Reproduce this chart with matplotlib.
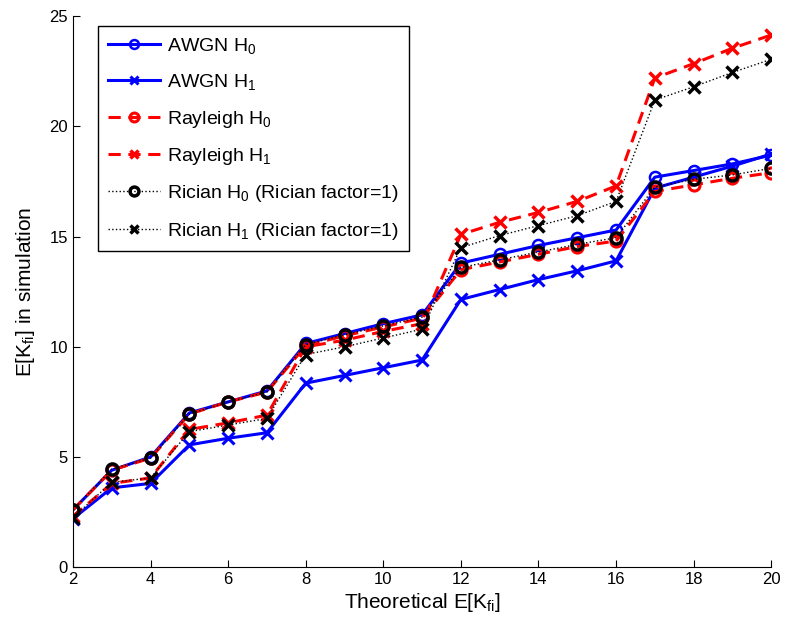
import matplotlib.pyplot as plt

plt.rcParams['font.family'] = ['Liberation Sans', 'DejaVu Sans']
plt.rcParams['mathtext.default'] = 'regular'

x = list(range(2, 21))
awgn_h0 = [2.6, 4.4, 5.0, 7.0, 7.5, 8.0, 10.15, 10.6, 11.05, 11.45, 13.8, 14.2, 14.6, 14.95, 15.3, 17.7, 18.0, 18.3, 18.7]
awgn_h1 = [2.2, 3.6, 3.8, 5.55, 5.85, 6.1, 8.35, 8.7, 9.05, 9.4, 12.15, 12.6, 13.05, 13.45, 13.9, 17.2, 17.7, 18.2, 18.75]
rayl_h0 = [2.6, 4.4, 4.95, 6.95, 7.5, 7.95, 10.05, 10.5, 10.9, 11.3, 13.5, 13.85, 14.2, 14.55, 14.8, 17.05, 17.35, 17.65, 17.9]
rayl_h1 = [2.3, 3.8, 4.05, 6.25, 6.55, 6.9, 10.0, 10.3, 10.7, 11.05, 15.1, 15.65, 16.1, 16.6, 17.3, 22.2, 22.85, 23.55, 24.15]
rice_h0 = [2.6, 4.45, 4.95, 6.95, 7.5, 7.95, 10.1, 10.55, 10.95, 11.35, 13.6, 13.95, 14.3, 14.65, 14.95, 17.25, 17.6, 17.8, 18.1]
rice_h1 = [2.25, 3.85, 4.05, 6.15, 6.45, 6.75, 9.65, 10.0, 10.4, 10.8, 14.5, 15.05, 15.5, 15.95, 16.6, 21.2, 21.8, 22.45, 23.05]

fig = plt.figure(figsize=(7.89, 6.26), dpi=100)
ax = fig.add_axes([0.0925, 0.094, 0.885, 0.88])

ax.plot(x, awgn_h0, '-o', color='blue', lw=2.2, ms=8, mfc='none', mew=1.8, label='AWGN H$_0$')
ax.plot(x, awgn_h1, '-x', color='blue', lw=2.2, ms=8, mew=2.2, label='AWGN H$_1$')
ax.plot(x, rayl_h0, '--o', color='red', lw=2.2, ms=8, mfc='none', mew=2.2, dashes=(4, 2.5), label='Rayleigh H$_0$')
ax.plot(x, rayl_h1, '--x', color='red', lw=2.2, ms=8, mew=2.5, dashes=(4, 2.5), label='Rayleigh H$_1$')
ax.plot(x, rice_h0, ':o', color='black', lw=1.0, ms=8, mfc='none', mew=2.5, label='Rician H$_0$ (Rician factor=1)')
ax.plot(x, rice_h1, ':x', color='black', lw=1.0, ms=8, mew=2.5, label='Rician H$_1$ (Rician factor=1)')

ax.set_xlim(2, 20)
ax.set_ylim(0, 25)
ax.set_xticks(range(2, 21, 2))
ax.set_yticks(range(0, 26, 5))
ax.tick_params(direction='in', labelsize=12, length=5)
ax.spines['top'].set_visible(False)
ax.spines['right'].set_visible(False)
ax.set_xlabel('Theoretical E[K$_{fi}$]', fontsize=15, labelpad=3)
ax.set_ylabel('E[K$_{fi}$] in simulation', fontsize=15, labelpad=9)

leg = ax.legend(loc='upper left', bbox_to_anchor=(0.036, 0.982), fontsize=14,
                fancybox=False, edgecolor='black', framealpha=1, handlelength=2.7,
                handletextpad=0.35, labelspacing=0.84, borderpad=0.5, borderaxespad=0,
                markerscale=0.8)
leg.get_frame().set_linewidth(1.0)

fig.savefig('out.png', dpi=100)
